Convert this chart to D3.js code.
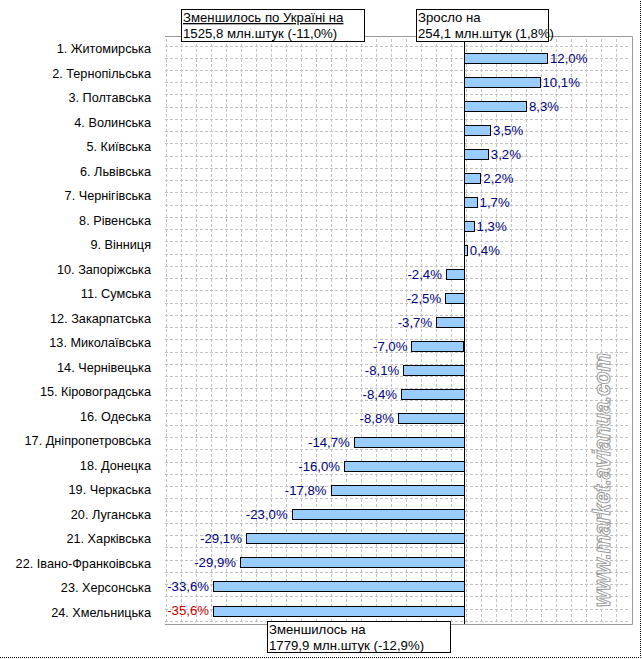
<!DOCTYPE html>
<html><head><meta charset="utf-8">
<script src="https://cdn.jsdelivr.net/npm/d3@7/dist/d3.min.js"></script>
<style>
html,body{margin:0;padding:0;background:#fff;}
svg{display:block;font-family:"Liberation Sans",Arial,sans-serif;}
</style></head>
<body>
<script>
const categories = ["1. Житомирська","2. Тернопільська","3. Полтавська","4. Волинська","5. Київська","6. Львівська","7. Чернігівська","8. Рівенська","9. Вінниця","10. Запоріжська","11. Сумська","12. Закарпатська","13. Миколаївська","14. Чернівецька","15. Кіровоградська","16. Одеська","17. Дніпропетровська","18. Донецка","19. Черкаська","20. Луганська","21. Харківська","22. Івано-Франкоівська","23. Херсонська","24. Хмельницька"];
const values = [12.0,10.1,8.3,3.5,3.2,2.2,1.7,1.3,0.4,-2.4,-2.5,-3.7,-7.0,-8.1,-8.4,-8.8,-14.7,-16.0,-17.8,-23.0,-29.1,-29.9,-33.6,-35.6];
const axisDomain = [-33.5, 11.1];
const boxTopLeft = ["Зменшилось по Україні на", "1525,8 млн.штук (-11,0%)"];
const boxTopRight = ["Зросло на", "254,1 млн.штук (1,8%)"];
const boxBottom = ["Зменшилось на", "1779,9 млн.штук (-12,9%)"];
const watermark = "www.market.avianua.com";

const W = 642, H = 659;
const svg = d3.select("body").append("svg").attr("width", W).attr("height", H);

// background grid pattern
const gx0 = 165, gx1 = 628, gy0 = 39, gy1 = 622;
const grid = svg.append("g").attr("stroke", "#c4c4c4").attr("stroke-width", 1).attr("stroke-dasharray", "3,2");
d3.range(166, gx1 + 1, 15).forEach(x => grid.append("line").attr("x1", x + 0.5).attr("x2", x + 0.5).attr("y1", gy0).attr("y2", gy1));
d3.range(45.5, gy1 + 1, 12.24).forEach(y => grid.append("line").attr("x1", gx0).attr("x2", gx1).attr("y1", Math.round(y) + 0.5).attr("y2", Math.round(y) + 0.5));

// frame
svg.append("path").attr("d", `M165,36.5 H632.5 V624.5 H165`).attr("fill", "none").attr("stroke", "#9a9a9a");

// outer dotted border
svg.append("path").attr("d", `M0,657.5 H640.5 V0`).attr("fill", "none").attr("stroke", "#000").attr("stroke-dasharray", "1,1");

const x = d3.scaleLinear().domain(axisDomain).range([213, 547]).clamp(true);
const yBar = d3.scalePoint().domain(categories).range([58, 610.5]);
const yLab = d3.scalePoint().domain(categories).range([49, 612.5]);
const bh = 10;

// category labels
svg.append("g").selectAll("text").data(categories).join("text")
  .attr("x", 151).attr("y", d => yLab(d)).attr("dy", "0.35em")
  .attr("text-anchor", "end").attr("font-size", 12.7).attr("fill", "#000").text(d => d);

// bars
svg.append("g").selectAll("rect").data(values).join("rect")
  .attr("x", d => Math.round(Math.min(x(d), x(0))) + 0.5)
  .attr("width", d => Math.max(1, Math.round(Math.abs(x(d) - x(0)))))
  .attr("y", (d, i) => Math.round(yBar(categories[i]) - bh / 2) + 0.5)
  .attr("height", bh)
  .attr("fill", "#99ccff").attr("stroke", "#000").attr("stroke-width", 1);

// zero axis
svg.append("line").attr("x1", Math.round(x(0)) + 0.5).attr("x2", Math.round(x(0)) + 0.5)
  .attr("y1", 36).attr("y2", 624).attr("stroke", "#000");

// value labels
const fmt = v => d3.format(".1f")(v).replace(".", ",").replace("−", "-") + "%";
svg.append("g").selectAll("text").data(values).join("text")
  .attr("x", d => d >= 0 ? x(d) + 3 : x(d) - 4)
  .attr("y", (d, i) => yBar(categories[i])).attr("dy", "0.35em")
  .attr("text-anchor", d => d >= 0 ? "start" : "end")
  .attr("font-size", 13.2)
  .attr("fill", (d, i) => i === values.length - 1 ? "#cc0000" : "#000080")
  .text(fmt);

// annotation boxes
function box(x0, y0, w, h, lines, underlineFirst) {
  const g = svg.append("g");
  g.append("rect").attr("x", x0 + 0.5).attr("y", y0 + 0.5).attr("width", w).attr("height", h)
    .attr("fill", "#fff").attr("stroke", "#000");
  lines.forEach((t, i) => {
    g.append("text").attr("x", x0 + 2).attr("y", y0 + 13 + i * 15.5).attr("font-size", 13.2)
      .attr("fill", "#000").attr("text-decoration", (underlineFirst && i === 0) ? "underline" : null).text(t);
  });
}
box(181, 9, 183, 32, boxTopLeft, true);
box(416, 9, 132, 32, boxTopRight, false);
box(267, 621, 183, 31, boxBottom, false);

// watermark
svg.append("text").attr("transform", "translate(610,607) rotate(-90)")
  .attr("font-size", 24).attr("font-weight", "bold").attr("font-style", "italic")
  .attr("fill", "#fff").attr("stroke", "#999").attr("stroke-width", 1)
  .attr("textLength", 254).attr("lengthAdjust", "spacingAndGlyphs")
  .text(watermark);
</script>
</body></html>
